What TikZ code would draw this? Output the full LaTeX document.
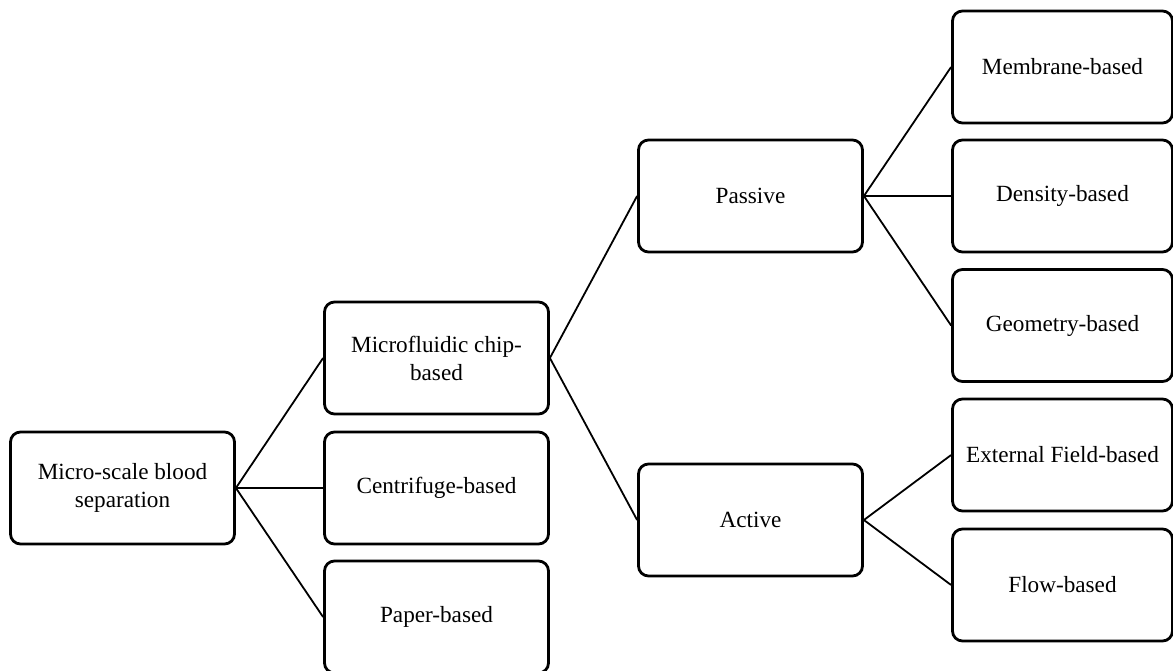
\documentclass[tikz,border=0pt]{standalone}
\usepackage{fontspec}
\setmainfont{Liberation Serif}
\begin{document}
\begin{tikzpicture}[x=0.5pt,y=-0.5pt,
  box/.style={draw=black,line width=1.4pt,rounded corners=5pt,fill=white,
    minimum width=112pt,minimum height=56pt,align=center,inner sep=2pt,
    font=\fontsize{11.6}{14}\selectfont},
  rbox/.style={box,minimum width=110pt},
  link/.style={draw=black,line width=0.9pt}]
\useasboundingbox (0,0) rectangle (1173,670);
\clip (0,0) rectangle (1173,670);
\node[box] (root) at (122.5,488) {Micro-scale blood\\separation};
\node[box] (micro) at (436.5,358) {Microfluidic chip-\\based};
\node[box] (centri) at (436.5,488) {Centrifuge-based};
\node[box] (paper) at (436.5,617) {Paper-based};
\node[box] (passive) at (750.5,196) {Passive};
\node[box] (active) at (750.5,520) {Active};
\node[rbox] (membrane) at (1062.5,67) {Membrane-based};
\node[rbox] (density) at (1062.5,196) {Density-based};
\node[rbox] (geometry) at (1062.5,325.5) {Geometry-based};
\node[rbox] (external) at (1062.5,455) {External Field-based};
\node[rbox] (flow) at (1062.5,585) {Flow-based};
\draw[link] (root.east) -- (micro.west);
\draw[link] (root.east) -- (centri.west);
\draw[link] (root.east) -- (paper.west);
\draw[link] (micro.east) -- (passive.west);
\draw[link] (micro.east) -- (active.west);
\draw[link] (passive.east) -- (membrane.west);
\draw[link] (passive.east) -- (density.west);
\draw[link] (passive.east) -- (geometry.west);
\draw[link] (active.east) -- (external.west);
\draw[link] (active.east) -- (flow.west);
\end{tikzpicture}
\end{document}
